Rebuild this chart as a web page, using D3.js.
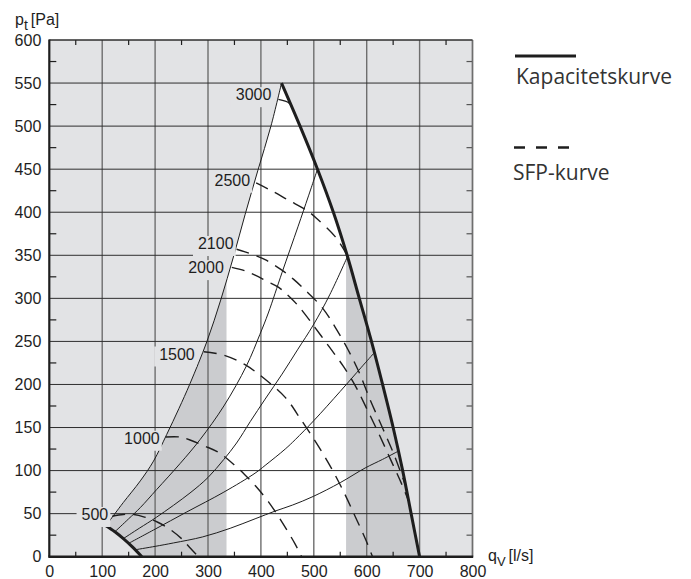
<!DOCTYPE html>
<html><head><meta charset="utf-8">
<script src="https://cdn.jsdelivr.net/npm/d3@7"></script>
<style>html,body{margin:0;padding:0;background:#fff;}svg{display:block}</style>
</head><body><svg id="c" width="691" height="579"></svg>
<script>
// ---------- DATA ----------
const xTicks = [0,100,200,300,400,500,600,700,800];
const yTicks = [0,50,100,150,200,250,300,350,400,450,500,550,600];
const xMinor = [50,150,250,350,450,550,650,750];
const yMinor = [25,75,125,175,225,275,325,375,425,475,525,575];

// capacity curve (thick) and minimum-speed curve (thick)
const capacityCurve = [[439,550],[474,500],[507,450],[537,400],[563,350],[586,300],[609,250],[630,200],[650,150],[668,100],[684,50],[700,0]];
const minSpeedCurve = [[107,36],[124,29],[140,21],[156,12],[175,0]];

// thin system curves
const systemLeft = [[107,36],[124,50],[140,63],[172,88],[197,111],[222,142],[245,172],[266,201],[298,250],[324,298],[348,348],[370,397],[394,448],[419,500],[439,550]];
const system2 = [[124,29],[150,44],[172,57],[203,78],[247,108],[285,136],[330,175],[373,222],[398,258],[414,283],[440,330],[470,383],[490,419],[507,450]];
const system3 = [[140,21],[170,33],[203,46],[266,74],[300,92],[330,113],[354,132],[380,157],[408,183],[440,212],[470,241],[499,269],[530,304],[564,349]];
const system4 = [[150,15.5],[200,32],[260,52],[330,75],[389,97],[408,106],[446,125],[465,136],[500,158],[550,192],[590,220],[613,236]];
const system5 = [[162,8],[200,12],[235,16],[290,23],[342,33],[389,44],[427,53],[460,60],[499,70],[550,86],[597,103],[630,113],[658,122]];

// dashed curves (rpm)
const speedLabels = ["500","1000","1500","2000","2100","2500","3000"];
const speed500  = [[119,47],[140,49],[160,49],[180,46],[205,40],[230,31],[250,21],[265,11],[282,0]];
const speed1000 = [[220,139],[247,139],[266,135.5],[294,128.5],[320,121],[350,106.5],[370,95],[390,82],[414,64],[439,41],[464,15.5],[477,0]];
const speed1500 = [[292,238],[330,234],[370,223],[408,206],[446,185],[476,159],[508,129],[534,102],[556,76],[578,47],[598,20],[611,0]];
const speed2000 = [[345,336],[370,332],[389,327],[411,320],[433,313],[452,303],[471,291],[500,268],[530,243],[556,221],[578,199],[600,172],[622,144],[645,113],[665,86],[679,65]];
const speed2100 = [[354,357],[370,354],[389,350],[411,344],[439,333],[462,322],[483,310],[515,290],[540,267],[565,240],[585,215],[606,183],[631,148],[652,118],[672,85]];
const speed2500 = [[391,434],[420,425],[452,414],[487,402],[505,393],[540,372],[564,349]];
const speed3000 = [[433,531],[446,529],[453,527],[458,523.5]];
const speedCurves = [speed500,speed1000,speed1500,speed2000,speed2100,speed2500,speed3000];

const whiteZone = [335,561];   // flow range drawn white inside the fan area
const legendLabels = ["Kapacitetskurve","SFP-kurve"];

// ---------- LAYOUT ----------
const svg = d3.select("#c");
const X0=49.3, X1=472.5, Y0=556.7, Y1=40;
const x = d3.scaleLinear().domain([0,800]).range([X0,X1]);
const y = d3.scaleLinear().domain([0,600]).range([Y0,Y1]);
const labelOffset = {"500":[-4,-2],"1000":[-6,1],"1500":[-9,2],"2000":[-8,0],"2100":[-3,-6],"2500":[-6,-3],"3000":[-7,-5]};
const FONT = "'Liberation Sans', Arial, Helvetica, sans-serif";
const LEGFONT = "'Open Sans', 'Noto Sans', sans-serif";
const INK = "#1e1e1e";

const line = d3.line().x(d=>x(d[0])).y(d=>y(d[1])).curve(d3.curveCatmullRom.alpha(0.5));

// background
svg.append("rect").attr("x",X0).attr("y",Y1).attr("width",X1-X0).attr("height",Y0-Y1).attr("fill","#e2e3e5");

// fan area path
const seg = (pts)=>line(pts).replace(/^M/,"L");
const fanPath = line(minSpeedCurve.slice().reverse()) + seg(systemLeft) + seg(capacityCurve) + "Z";
svg.append("path").attr("d",fanPath).attr("fill","#cbcccf");
svg.append("clipPath").attr("id","wz").append("rect")
  .attr("x",x(whiteZone[0])).attr("y",Y1).attr("width",x(whiteZone[1])-x(whiteZone[0])).attr("height",Y0-Y1);
svg.append("path").attr("d",fanPath).attr("fill","#ffffff").attr("clip-path","url(#wz)");

// grid
const grid = svg.append("g");
grid.selectAll("line.v").data(xTicks.slice(1)).join("line")
  .attr("x1",d=>x(d)).attr("x2",d=>x(d)).attr("y1",Y1).attr("y2",Y0)
  .attr("stroke","#6e6e6e").attr("stroke-width",1.4);
grid.selectAll("line.h").data(yTicks.slice(1)).join("line").attr("class","h")
  .attr("x1",X0).attr("x2",X1).attr("y1",d=>y(d)).attr("y2",d=>y(d))
  .attr("stroke","#2e2e2e").attr("stroke-width",1);

// minor ticks
const mt = svg.append("g").attr("stroke",INK).attr("stroke-width",1.2);
xMinor.forEach(v=>{
  mt.append("line").attr("x1",x(v)).attr("x2",x(v)).attr("y1",Y1).attr("y2",Y1+5);
  mt.append("line").attr("x1",x(v)).attr("x2",x(v)).attr("y1",Y0).attr("y2",Y0-5);
});
yMinor.forEach(v=>{
  mt.append("line").attr("x1",X0).attr("x2",X0+7).attr("y1",y(v)).attr("y2",y(v));
  mt.append("line").attr("x1",X1).attr("x2",X1-6).attr("y1",y(v)).attr("y2",y(v)).attr("stroke","#555");
});

// curves
const curves = svg.append("g").attr("fill","none");
[systemLeft,system2,system3,system4,system5].forEach(c=>{
  curves.append("path").attr("d",line(c)).attr("stroke",INK).attr("stroke-width",1);
});
speedCurves.forEach(c=>{
  curves.append("path").attr("d",line(c)).attr("stroke",INK).attr("stroke-width",1.4).attr("stroke-dasharray","13,8");
});
curves.append("path").attr("d",line(capacityCurve)).attr("stroke",INK).attr("stroke-width",3);
curves.append("path").attr("d",line(minSpeedCurve)).attr("stroke",INK).attr("stroke-width",3);

// curve labels with masking background
const lab = svg.append("g");
speedLabels.forEach((t,i)=>{
  const p = speedCurves[i][0], o = labelOffset[t];
  const g = lab.append("g");
  const r = g.append("rect").attr("fill","#e2e3e5");
  const tx = g.append("text").attr("x",x(p[0])+o[0]).attr("y",y(p[1])+o[1]).attr("dy","0.36em")
    .attr("text-anchor","end").attr("font-family",FONT).attr("font-size",16).attr("fill",INK).text(t);
  const b = tx.node().getBBox();
  r.attr("x",b.x-5).attr("y",b.y+1).attr("width",b.width+7).attr("height",b.height+3);
});

// axes (tick labels)
const ax = d3.axisBottom(x).tickValues(xTicks).tickSize(0).tickPadding(8.5).tickFormat(d3.format("d"));
const gx = svg.append("g").attr("transform",`translate(0,${Y0})`).call(ax);
const ay = d3.axisLeft(y).tickValues(yTicks).tickSize(0).tickPadding(8).tickFormat(d3.format("d"));
const gy = svg.append("g").attr("transform",`translate(${X0},0)`).call(ay);
[gx,gy].forEach(g=>{
  g.select(".domain").remove();
  g.selectAll("text").attr("font-family",FONT).attr("font-size",16).attr("fill",INK);
});

// frame
svg.append("line").attr("x1",X1).attr("x2",X1).attr("y1",Y1).attr("y2",Y0).attr("stroke","#6e6e6e").attr("stroke-width",1.4);
svg.append("line").attr("x1",X0).attr("x2",X1).attr("y1",Y1).attr("y2",Y1).attr("stroke","#2e2e2e").attr("stroke-width",1);
svg.append("line").attr("x1",X0).attr("x2",X0).attr("y1",Y1-0.5).attr("y2",Y0).attr("stroke",INK).attr("stroke-width",2.2);
svg.append("line").attr("x1",X0-1).attr("x2",X1+0.7).attr("y1",Y0).attr("y2",Y0).attr("stroke",INK).attr("stroke-width",2.6);

// axis titles
const ty = svg.append("text").attr("x",15).attr("y",25).attr("font-family",FONT).attr("font-size",16).attr("fill",INK);
ty.append("tspan").text("p");
ty.append("tspan").attr("dy",5).attr("font-size",14).text("t");
ty.append("tspan").attr("dy",-5).attr("dx",3).text("[Pa]");
const tq = svg.append("text").attr("x",488).attr("y",560.5).attr("font-family",FONT).attr("font-size",16).attr("fill",INK);
tq.append("tspan").text("q");
tq.append("tspan").attr("dy",5).attr("font-size",13).text("V");
tq.append("tspan").attr("dy",-5).attr("dx",3).text("[l/s]");

// legend
const lg = svg.append("g");
lg.append("line").attr("x1",515).attr("x2",576).attr("y1",56).attr("y2",56).attr("stroke",INK).attr("stroke-width",3);
lg.append("text").attr("x",516).attr("y",83.5).attr("font-family",LEGFONT).attr("font-size",21).attr("fill","#333").text(legendLabels[0]);
lg.append("line").attr("x1",514).attr("x2",578).attr("y1",147.5).attr("y2",147.5).attr("stroke",INK).attr("stroke-width",2.4).attr("stroke-dasharray","11,11");
lg.append("text").attr("x",513).attr("y",180).attr("font-family",LEGFONT).attr("font-size",21).attr("fill","#333").text(legendLabels[1]);
</script></body></html>
